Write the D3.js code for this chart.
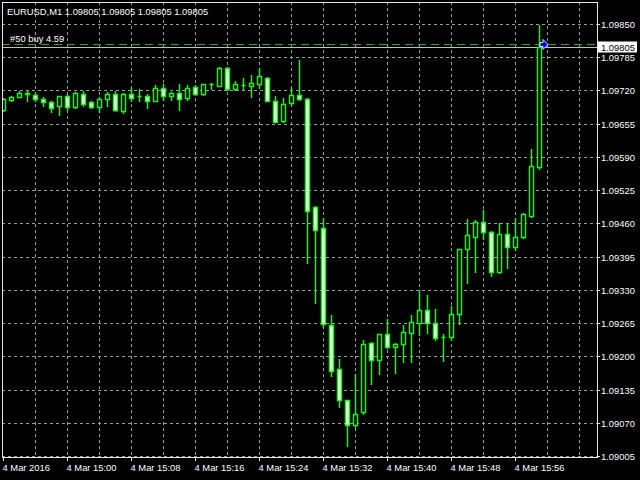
<!DOCTYPE html>
<html>
<head>
<meta charset="utf-8">
<script src="https://cdn.jsdelivr.net/npm/d3@7"></script>
<style>
  html, body { margin: 0; padding: 0; background: #000; }
  svg { display: block; }
  text { font-family: "Liberation Sans", Arial, sans-serif; font-size: 9.4px; }
</style>
</head>
<body>
<div id="viz-container"></div>
<script>
// EURUSD M1 bars, 4 Mar 2016 14:52 .. 15:59
const barTimes = d3.timeMinute.range(new Date(2016, 2, 4, 14, 52), new Date(2016, 2, 4, 16, 0));

const open = [1.09682, 1.09701, 1.09708, 1.09714, 1.09712, 1.09704, 1.09698, 1.09690, 1.09709, 1.09688,
  1.09714, 1.09697, 1.09687, 1.09703, 1.09714, 1.09680, 1.09714, 1.09709, 1.09709, 1.09700,
  1.09724, 1.09710, 1.09716, 1.09706, 1.09726, 1.09714, 1.09732, 1.09729, 1.09764, 1.09722,
  1.09731, 1.09729, 1.09733, 1.09744, 1.09700, 1.09661, 1.09696, 1.09712, 1.09703, 1.09493,
  1.09450, 1.09261, 1.09175, 1.09114, 1.09066, 1.09092, 1.09227, 1.09193, 1.09243, 1.09218,
  1.09225, 1.09246, 1.09265, 1.09291, 1.09266, 1.09238, 1.09237, 1.09282, 1.09409, 1.09434,
  1.09463, 1.09444, 1.09364, 1.09439, 1.09414, 1.09433, 1.09474, 1.09570];
const high = [1.09705, 1.09709, 1.09719, 1.09719, 1.09716, 1.09708, 1.09700, 1.09710, 1.09711, 1.09717,
  1.09719, 1.09700, 1.09707, 1.09717, 1.09719, 1.09715, 1.09725, 1.09723, 1.09714, 1.09731,
  1.09732, 1.09717, 1.09732, 1.09731, 1.09731, 1.09733, 1.09735, 1.09765, 1.09765, 1.09739,
  1.09744, 1.09750, 1.09763, 1.09746, 1.09710, 1.09706, 1.09724, 1.09780, 1.09705, 1.09494,
  1.09470, 1.09281, 1.09194, 1.09115, 1.09165, 1.09232, 1.09228, 1.09244, 1.09272, 1.09226,
  1.09261, 1.09281, 1.09330, 1.09320, 1.09292, 1.09244, 1.09298, 1.09410, 1.09469, 1.09467,
  1.09486, 1.09445, 1.09460, 1.09460, 1.09471, 1.09481, 1.09605, 1.09849];
const low = [1.09680, 1.09699, 1.09707, 1.09700, 1.09700, 1.09690, 1.09678, 1.09672, 1.09682, 1.09686,
  1.09690, 1.09685, 1.09677, 1.09689, 1.09680, 1.09676, 1.09700, 1.09700, 1.09686, 1.09699,
  1.09701, 1.09701, 1.09682, 1.09701, 1.09711, 1.09712, 1.09722, 1.09728, 1.09720, 1.09721,
  1.09723, 1.09708, 1.09724, 1.09699, 1.09658, 1.09658, 1.09692, 1.09701, 1.09382, 1.09304,
  1.09258, 1.09162, 1.09100, 1.09025, 1.09062, 1.09087, 1.09146, 1.09165, 1.09216, 1.09167,
  1.09188, 1.09188, 1.09242, 1.09246, 1.09232, 1.09191, 1.09232, 1.09263, 1.09344, 1.09364,
  1.09429, 1.09358, 1.09362, 1.09372, 1.09408, 1.09432, 1.09473, 1.09566];
const close = [1.09703, 1.09707, 1.09716, 1.09715, 1.09704, 1.09697, 1.09686, 1.09709, 1.09688, 1.09716,
  1.09693, 1.09688, 1.09703, 1.09714, 1.09682, 1.09714, 1.09706, 1.09709, 1.09700, 1.09725,
  1.09710, 1.09716, 1.09703, 1.09724, 1.09714, 1.09732, 1.09732, 1.09764, 1.09722, 1.09732,
  1.09731, 1.09735, 1.09748, 1.09700, 1.09659, 1.09694, 1.09711, 1.09703, 1.09484, 1.09447,
  1.09263, 1.09171, 1.09114, 1.09066, 1.09088, 1.09225, 1.09193, 1.09243, 1.09218, 1.09225,
  1.09247, 1.09268, 1.09291, 1.09265, 1.09236, 1.09238, 1.09282, 1.09409, 1.09437, 1.09463,
  1.09443, 1.09364, 1.09439, 1.09414, 1.09433, 1.09478, 1.09572, 1.09805];

const priceTicks = [1.09850, 1.09785, 1.09720, 1.09655, 1.09590, 1.09525, 1.09460,
  1.09395, 1.09330, 1.09265, 1.09200, 1.09135, 1.09070, 1.09005];
const timeTicks = [new Date(2016, 2, 4, 14, 52), new Date(2016, 2, 4, 15, 0), new Date(2016, 2, 4, 15, 8),
  new Date(2016, 2, 4, 15, 16), new Date(2016, 2, 4, 15, 24), new Date(2016, 2, 4, 15, 32),
  new Date(2016, 2, 4, 15, 40), new Date(2016, 2, 4, 15, 48), new Date(2016, 2, 4, 15, 56)];
const timeLabels = ["4 Mar 2016", "4 Mar 15:00", "4 Mar 15:08", "4 Mar 15:16", "4 Mar 15:24",
  "4 Mar 15:32", "4 Mar 15:40", "4 Mar 15:48", "4 Mar 15:56"];

const symbolTitle = "EURUSD,M1  1.09805 1.09805 1.09805 1.09805";
const orderLabel = "#50 buy 4.59";
const orderPrice = 1.09811;
const bidPrice = 1.09805;

const W = 640, H = 480;
const frame = { left: 2, top: 2, right: 597, bottom: 457 };

const bars = barTimes.map((t, i) => ({ t, o: open[i], h: high[i], l: low[i], c: close[i] }));

const x = d3.scaleTime()
  .domain([barTimes[0], barTimes[barTimes.length - 1]])
  .rangeRound([3, 539]);
const y = d3.scaleLinear()
  .domain([priceTicks[priceTicks.length - 1], priceTicks[0]])
  .rangeRound([456, 24]);

const svg = d3.select("#viz-container").append("svg")
  .attr("width", W).attr("height", H);

svg.append("rect").attr("width", W).attr("height", H).attr("fill", "#000");

svg.append("clipPath").attr("id", "plot-clip")
  .append("rect")
  .attr("x", frame.left + 1).attr("y", frame.top + 1)
  .attr("width", frame.right - frame.left - 1).attr("height", frame.bottom - frame.top - 1);

const plot = svg.append("g").attr("clip-path", "url(#plot-clip)");

// grid
const gridColor = "#9a9a9a";
plot.append("g").selectAll("line")
  .data(priceTicks)
  .join("line")
  .attr("x1", frame.left).attr("x2", frame.right)
  .attr("y1", d => y(d) + 0.5).attr("y2", d => y(d) + 0.5)
  .attr("stroke", gridColor).attr("stroke-dasharray", "3,3");

const gridTimes = d3.timeMinute.every(4).range(new Date(2016, 2, 4, 14, 53), new Date(2016, 2, 4, 16, 8));
plot.append("g").selectAll("line")
  .data(gridTimes)
  .join("line")
  .attr("x1", d => x(d) + 0.5).attr("x2", d => x(d) + 0.5)
  .attr("y1", frame.top).attr("y2", frame.bottom)
  .attr("stroke", gridColor).attr("stroke-dasharray", "3,3");

// order line and bid line
plot.append("line")
  .attr("x1", frame.left).attr("x2", frame.right)
  .attr("y1", y(orderPrice) + 0.5).attr("y2", y(orderPrice) + 0.5)
  .attr("stroke", "#2aa52a").attr("stroke-width", 1.2).attr("stroke-dasharray", "8,5");
plot.append("line")
  .attr("x1", frame.left).attr("x2", frame.right)
  .attr("y1", y(bidPrice) + 0.5).attr("y2", y(bidPrice) + 0.5)
  .attr("stroke", "#c0c0c0");

// candles
const candleColor = "#1ef01e";
const candles = plot.append("g").selectAll("g")
  .data(bars)
  .join("g");

candles.append("line")
  .attr("x1", d => x(d.t) + 0.5).attr("x2", d => x(d.t) + 0.5)
  .attr("y1", d => y(d.h)).attr("y2", d => y(d.l) + 1)
  .attr("stroke", candleColor).attr("stroke-width", 1.5);

candles.append("path")
  .attr("d", d => {
    const cx = x(d.t);
    const x0 = cx - 1.5, x1 = cx + 2.5;
    const y0 = y(Math.max(d.o, d.c)) + 0.5, y1 = y(Math.min(d.o, d.c)) + 0.5;
    return `M${x0},${y0}H${x1}V${y1}H${x0}Z`;
  })
  .attr("fill", d => d.c >= d.o ? "#000" : "#f4fff4")
  .attr("stroke", candleColor).attr("stroke-width", 1.5);

// order arrow
const ax = x(barTimes[barTimes.length - 1]) + 5, ay = y(orderPrice) + 0.5;
plot.append("path")
  .attr("transform", `translate(${ax},${ay})`)
  .attr("d", "M-4,-2H-1V-5L4,0L-1,5V2H-4Z")
  .attr("fill", "#0000ff").attr("stroke", "#dfe6ff").attr("stroke-width", 1);

// frame
svg.append("rect")
  .attr("x", frame.left + 0.5).attr("y", frame.top + 0.5)
  .attr("width", frame.right - frame.left).attr("height", frame.bottom - frame.top)
  .attr("fill", "none").attr("stroke", "#e6e6e6");

// price axis
const yAxis = svg.append("g")
  .attr("transform", `translate(${frame.right},0)`)
  .call(d3.axisRight(y).tickValues(priceTicks).tickFormat(d3.format(".5f")).tickSize(3).tickPadding(1));
yAxis.select(".domain").remove();
yAxis.selectAll("line").attr("stroke", "#e6e6e6");
yAxis.selectAll("text").attr("fill", "#fff").style("font-family", "Liberation Sans").style("font-size", "9.4px");

// time axis
const xAxis = svg.append("g")
  .attr("transform", `translate(0,${frame.bottom})`)
  .call(d3.axisBottom(x).tickValues(timeTicks).tickFormat((d, i) => timeLabels[i]).tickSize(4).tickPadding(3));
xAxis.select(".domain").remove();
xAxis.selectAll("line").attr("stroke", "#e6e6e6");
xAxis.selectAll("text").attr("fill", "#fff").attr("text-anchor", "start").attr("x", -1)
  .style("font-family", "Liberation Sans").style("font-size", "9.4px");

// bid label
const bidY = y(bidPrice) + 0.5;
svg.append("rect")
  .attr("x", frame.right + 1).attr("y", bidY - 6)
  .attr("width", 39).attr("height", 11)
  .attr("fill", "#fff");
svg.append("text")
  .attr("x", frame.right + 4).attr("y", bidY).attr("dy", "0.34em")
  .attr("fill", "#000")
  .text(d3.format(".5f")(bidPrice));

// titles
svg.append("text").attr("x", 7).attr("y", 15).attr("fill", "#fff").text(symbolTitle);
svg.append("text").attr("x", 10).attr("y", 42).attr("fill", "#fff").text(orderLabel);
</script>
</body>
</html>
